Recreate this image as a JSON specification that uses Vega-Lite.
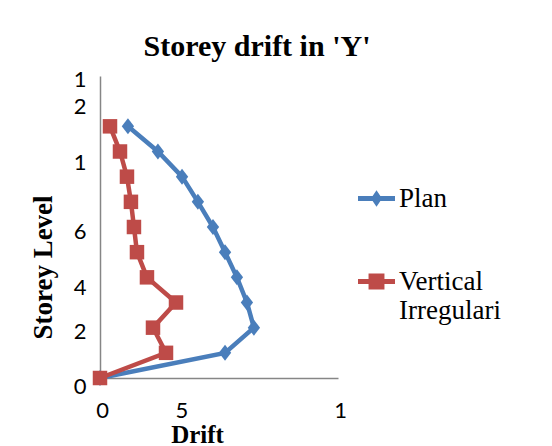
{
  "$schema": "https://vega.github.io/schema/vega-lite/v6.json",
  "width": 238,
  "height": 302,
  "autosize": "none",
  "padding": {"left": 100, "top": 76, "right": 214, "bottom": 68},
  "background": "white",
  "config": {"view": {"stroke": null}},
  "title": {
    "text": "Storey drift in 'Y'",
    "font": "Liberation Serif",
    "fontSize": 30,
    "fontWeight": "bold",
    "color": "black",
    "anchor": "middle",
    "frame": "group",
    "dx": 38,
    "dy": 24,
    "baseline": "alphabetic",
    "offset": 6
  },
  "data": {
    "values": [
      {"series": "Plan", "level": 0, "drift": 0},
      {"series": "Plan", "level": 1, "drift": 7.88},
      {"series": "Plan", "level": 2, "drift": 9.70},
      {"series": "Plan", "level": 3, "drift": 9.26},
      {"series": "Plan", "level": 4, "drift": 8.63},
      {"series": "Plan", "level": 5, "drift": 7.88},
      {"series": "Plan", "level": 6, "drift": 7.12},
      {"series": "Plan", "level": 7, "drift": 6.17},
      {"series": "Plan", "level": 8, "drift": 5.17},
      {"series": "Plan", "level": 9, "drift": 3.65},
      {"series": "Plan", "level": 10, "drift": 1.76},
      {"series": "Vertical Irregularity", "level": 0, "drift": 0},
      {"series": "Vertical Irregularity", "level": 1, "drift": 4.16},
      {"series": "Vertical Irregularity", "level": 2, "drift": 3.34},
      {"series": "Vertical Irregularity", "level": 3, "drift": 4.79},
      {"series": "Vertical Irregularity", "level": 4, "drift": 2.96},
      {"series": "Vertical Irregularity", "level": 5, "drift": 2.33},
      {"series": "Vertical Irregularity", "level": 6, "drift": 2.14},
      {"series": "Vertical Irregularity", "level": 7, "drift": 1.95},
      {"series": "Vertical Irregularity", "level": 8, "drift": 1.70},
      {"series": "Vertical Irregularity", "level": 9, "drift": 1.26},
      {"series": "Vertical Irregularity", "level": 10, "drift": 0.63}
    ]
  },
  "encoding": {
    "x": {
      "field": "drift",
      "type": "quantitative",
      "scale": {"domain": [0, 15], "nice": false, "zero": true},
      "axis": {
        "values": [0, 5, 10, 15],
        "ticks": false,
        "grid": false,
        "domainColor": "#868686",
        "domainWidth": 1.5,
        "labelFont": "Lato",
        "labelFontSize": 22,
        "labelColor": "black",
        "labelPadding": 22,
        "labelBaseline": "top",
        "labelOffset": 2,
        "labelExpr": "datum.value == 10 ? '' : datum.value == 15 ? '1' : datum.label",
        "labelOverlap": false,
        "labelBound": false,
        "labelFlush": false,
        "title": "Drift",
        "titleFont": "Liberation Serif",
        "titleFontSize": 25,
        "titleFontWeight": "bold",
        "titleColor": "black",
        "titleX": 97,
        "titleY": 64,
        "titleBaseline": "alphabetic",
        "titleAlign": "center"
      }
    },
    "y": {
      "field": "level",
      "type": "quantitative",
      "scale": {"domain": [0, 12], "nice": false},
      "axis": {
        "values": [0, 2, 4, 6, 8, 10, 12],
        "ticks": false,
        "grid": false,
        "domainColor": "#868686",
        "domainWidth": 1.5,
        "labelFont": "Lato",
        "labelFontSize": 22,
        "labelColor": "black",
        "labelPadding": 14,
        "labelLineHeight": 27,
        "labelExpr": "datum.value == 12 ? ['1', '2'] : datum.value == 10 ? '1' : datum.value == 8 ? '' : datum.label",
        "labelOffset": {
          "condition": [
            {"test": "datum.value == 12", "value": 3},
            {"test": "datum.value == 10", "value": 36},
            {"test": "datum.value == 4", "value": 10},
            {"test": "datum.value == 0", "value": 8}
          ],
          "value": 4
        },
        "labelOverlap": false,
        "labelBound": false,
        "labelFlush": false,
        "title": "Storey Level",
        "titleFont": "Liberation Serif",
        "titleFontSize": 27,
        "titleFontWeight": "bold",
        "titleColor": "black",
        "titleAngle": 270,
        "titleX": -49,
        "titleY": 191,
        "titleBaseline": "alphabetic",
        "titleAlign": "center"
      }
    }
  },
  "layer": [
    {
      "mark": {"type": "line", "strokeWidth": 4.5},
      "encoding": {
        "order": {"field": "level", "type": "quantitative"},
        "color": {
          "field": "series",
          "type": "nominal",
          "scale": {"domain": ["Plan", "Vertical Irregularity"], "range": ["#4a7ebb", "#be4b48"]},
          "legend": null
        }
      }
    },
    {
      "mark": {"type": "point", "filled": true, "opacity": 1, "size": 210},
      "encoding": {
        "color": {
          "field": "series",
          "type": "nominal",
          "scale": {"domain": ["Plan", "Vertical Irregularity"], "range": ["#4a7ebb", "#be4b48"]},
          "legend": null
        },
        "shape": {
          "field": "series",
          "type": "nominal",
          "scale": {"domain": ["Plan", "Vertical Irregularity"], "range": ["M0,-1.1L0.85,0L0,1.1L-0.85,0Z", "M-1,-1H1V1H-1Z"]},
          "legend": null
        }
      }
    },
    {
      "transform": [{"filter": "false"}],
      "mark": {"type": "point", "filled": true, "opacity": 1},
      "encoding": {
        "color": {
          "field": "series",
          "type": "nominal",
          "scale": {"domain": ["Plan", "Vertical Irregularity"], "range": ["#4a7ebb", "#be4b48"]},
          "legend": {
            "orient": "none",
            "legendX": 258,
            "legendY": 104,
            "title": null,
            "padding": 0,
            "symbolSize": 1369,
            "symbolOpacity": 1,
            "symbolStrokeWidth": 0,
            "labelFont": "Liberation Serif",
            "labelFontSize": 27,
            "labelColor": "black",
            "labelOffset": 4,
            "labelLimit": 300,
            "rowPadding": 51,
            "labelExpr": "datum.value == 'Plan' ? 'Plan' : ['Vertical', 'Irregulari']"
          }
        },
        "shape": {
          "field": "series",
          "type": "nominal",
          "scale": {"domain": ["Plan", "Vertical Irregularity"], "range": ["M-1,-0.13H1V0.13H-1Z M0,-0.45L0.3,0L0,0.45L-0.3,0Z", "M-1,-0.13H1V0.13H-1Z M-0.43,-0.43H0.43V0.43H-0.43Z"]},
          "legend": {
            "orient": "none",
            "legendX": 258,
            "legendY": 104,
            "title": null,
            "padding": 0,
            "symbolSize": 1369,
            "symbolOpacity": 1,
            "symbolStrokeWidth": 0,
            "labelFont": "Liberation Serif",
            "labelFontSize": 27,
            "labelColor": "black",
            "labelOffset": 4,
            "labelLimit": 300,
            "rowPadding": 51,
            "labelExpr": "datum.value == 'Plan' ? 'Plan' : ['Vertical', 'Irregulari']"
          }
        }
      }
    }
  ],
  "resolve": {"scale": {"shape": "independent", "color": "independent"}}
}
